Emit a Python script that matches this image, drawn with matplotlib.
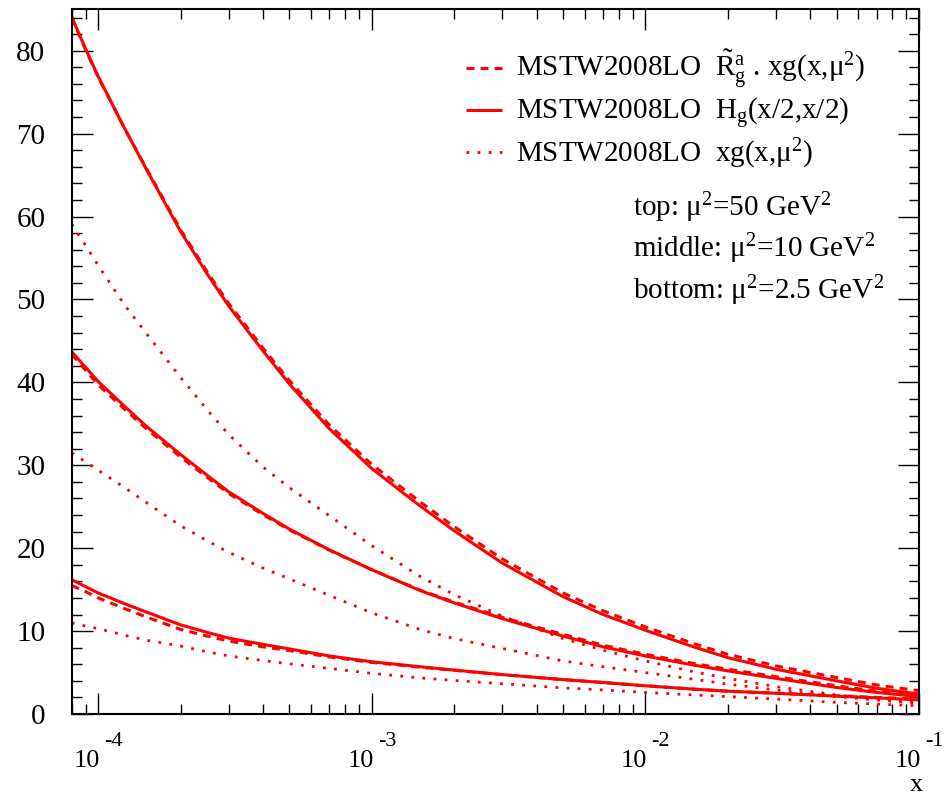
import numpy as np
import matplotlib
matplotlib.use("Agg")
import matplotlib.pyplot as plt
import matplotlib.transforms as mtransforms
from matplotlib.lines import Line2D
from matplotlib.ticker import LogLocator, FixedLocator, MultipleLocator, NullFormatter

plt.rcParams['font.family'] = ['Liberation Serif', 'DejaVu Serif']
plt.rcParams['mathtext.fontset'] = 'custom'
plt.rcParams['mathtext.rm'] = 'Liberation Serif'
plt.rcParams['mathtext.it'] = 'Liberation Serif:italic'
plt.rcParams['mathtext.bf'] = 'Liberation Serif:bold'

# ---- data ----
x = [8e-5, 9e-5, 1e-4, 1.25e-4, 1.5e-4, 2e-4, 2.5e-4, 3e-4, 4e-4, 5e-4, 7e-4, 1e-3,
     1.5e-3, 2e-3, 3e-3, 5e-3, 7e-3, 1e-2, 1.5e-2, 2e-2, 3e-2, 5e-2, 7e-2, 1e-1]

# mu^2 = 50 GeV^2
top_solid  = [84.1, 80.2, 76.9, 70.6, 65.7, 58.2, 53.1, 49.2, 43.8, 39.8, 34.4, 29.6,
              25.1, 22.1, 18.2, 14.15, 12.0, 10.1, 8.1, 6.8, 5.4, 4.0, 3.1, 2.4]
top_dashed = [84.0, 80.1, 76.8, 70.6, 65.8, 58.4, 53.35, 49.5, 44.15, 40.2, 34.85, 30.1,
              25.6, 22.6, 18.7, 14.6, 12.45, 10.5, 8.5, 7.2, 5.8, 4.4, 3.5, 2.8]
top_dotted = [59.1, 56.5, 54.1, 49.3, 45.9, 40.6, 36.7, 33.7, 29.8, 27.3, 23.9, 20.3,
              16.6, 14.4, 11.8, 9.1, 7.7, 6.4, 5.1, 4.3, 3.3, 2.3, 1.8, 1.45]
# mu^2 = 10 GeV^2
mid_solid  = [43.7, 41.8, 40.1, 37.1, 34.7, 31.3, 28.8, 26.8, 24.2, 22.3, 19.8, 17.4,
              14.9, 13.4, 11.5, 9.4, 8.1, 7.0, 5.9, 5.2, 4.3, 3.2, 2.6, 2.1]
mid_dashed = [43.4, 41.45, 39.7, 36.75, 34.4, 31.0, 28.55, 26.6, 24.05, 22.2, 19.75, 17.4,
              14.95, 13.5, 11.65, 9.6, 8.3, 7.2, 6.1, 5.4, 4.5, 3.4, 2.75, 2.2]
mid_dotted = [31.5, 30.4, 29.4, 27.3, 25.5, 22.7, 20.9, 19.5, 17.6, 16.3, 14.3, 12.2,
              10.2, 9.1, 7.9, 6.4, 5.7, 5.0, 4.2, 3.6, 2.9, 2.1, 1.7, 1.3]
# mu^2 = 2.5 GeV^2
bot_solid  = [16.2, 15.35, 14.6, 13.3, 12.3, 10.75, 9.85, 9.15, 8.4, 7.85, 7.0, 6.3,
              5.7, 5.3, 4.75, 4.15, 3.8, 3.4, 3.0, 2.75, 2.5, 2.15, 1.95, 1.7]
bot_dashed = [15.5, 14.75, 14.0, 12.7, 11.7, 10.2, 9.4, 8.8, 8.1, 7.65, 6.88, 6.22,
              5.65, 5.27, 4.75, 4.15, 3.8, 3.4, 3.0, 2.75, 2.5, 2.2, 2.0, 1.8]
bot_dotted = [11.0, 10.6, 10.3, 9.5, 8.9, 8.2, 7.5, 7.0, 6.45, 6.05, 5.5, 4.9,
              4.35, 4.05, 3.65, 3.15, 2.9, 2.6, 2.3, 2.1, 1.8, 1.4, 1.2, 1.0]

y_ticks = [0, 10, 20, 30, 40, 50, 60, 70, 80]
x_ticks = [1e-4, 1e-3, 1e-2, 1e-1]
x_tick_base = '10'
x_tick_exp = ['-4', '-3', '-2', '-1']

legend_labels = [
    r'MSTW2008LO  $\tilde{\mathrm{R}}_{\mathrm{g}}^{\mathrm{a}}$ . xg(x,μ$^{2}$)',
    r'MSTW2008LO  H$_{\mathrm{g}}$(x/2,x/2)',
    r'MSTW2008LO  xg(x,μ$^{2}$)',
]
notes = ['top: μ$^{2}$=50 GeV$^{2}$', 'middle: μ$^{2}$=10 GeV$^{2}$',
         'bottom: μ$^{2}$=2.5 GeV$^{2}$']

# ---- figure ----
W, H = 951, 798
fig = plt.figure(figsize=(W / 100, H / 100), dpi=100)
L, R, T, B = 71.7, 919.0, 9.3, 714.0
ax = fig.add_axes([L / W, 1 - B / H, (R - L) / W, (B - T) / H])

RED = '#ff0000'
solid_kw = dict(color=RED, lw=2.2, ls='-', solid_capstyle='butt', solid_joinstyle='round')
dash_kw = dict(color=RED, lw=2.2, dashes=(2.6, 2.0), dash_capstyle='butt')
dot_kw = dict(color=RED, lw=2.0, dashes=(1.0, 3.0), dash_capstyle='butt')

for ys in (top_solid, mid_solid, bot_solid):
    ax.plot(x, ys, **solid_kw)
for ys in (top_dashed, mid_dashed, bot_dashed):
    ax.plot(x, ys, **dash_kw)
for ys in (top_dotted, mid_dotted, bot_dotted):
    ax.plot(x, ys, **dot_kw)

ax.set_xscale('log')
ax.set_xlim(8e-5, 1e-1)
ax.set_ylim(0, 85)

ax.xaxis.set_major_locator(FixedLocator(x_ticks))
ax.set_xticklabels([])
ax.xaxis.set_minor_locator(LogLocator(base=10, subs=np.arange(2, 10), numticks=20))
ax.xaxis.set_minor_formatter(NullFormatter())
ax.set_yticks(y_ticks)
ax.yaxis.set_minor_locator(MultipleLocator(2))

ax.tick_params(which='both', direction='in', top=True, right=True, color='black', width=1.0)
ax.tick_params(which='major', length=15)
ax.tick_params(which='minor', length=7.5)
ax.tick_params(axis='y', which='major', labelsize=21, pad=19)
for s in ax.spines.values():
    s.set_linewidth(1.5)

# x tick labels, ROOT style 10^{n}
blend = mtransforms.blended_transform_factory(ax.transData, fig.transFigure)
for t, e in zip(x_ticks, x_tick_exp):
    tb = blend + mtransforms.ScaledTranslation(2 / 100, 0, fig.dpi_scale_trans)
    te = blend + mtransforms.ScaledTranslation(6 / 100, 0, fig.dpi_scale_trans)
    fig.text(t, 1 - 767 / H, x_tick_base, transform=tb, ha='right', va='baseline', fontsize=19)
    fig.text(t, 1 - 746 / H, e, transform=te, ha='left', va='baseline', fontsize=16)

# x-axis title at lower right
fig.text(916 / W, 1 - 791 / H, 'x', ha='center', va='baseline', fontsize=19)

# ---- legend (drawn by hand, ROOT style) ----
rows_center = [67.5, 109.5, 151.5]
rows_base = [77.3, 119.5, 161.5]
styles = [dash_kw, solid_kw, dot_kw]
for yc, yb, st, lab in zip(rows_center, rows_base, styles, legend_labels):
    fig.add_artist(Line2D([466 / W, 502 / W], [1 - yc / H, 1 - yc / H],
                          transform=fig.transFigure, **st))
    fig.text(516.5 / W, 1 - yb / H, lab, ha='left', va='baseline', fontsize=21)

for yb, t in zip([216.5, 257.0, 299.0], notes):
    fig.text(633 / W, 1 - yb / H, t, ha='left', va='baseline', fontsize=21)

fig.savefig('out.png', dpi=100)
